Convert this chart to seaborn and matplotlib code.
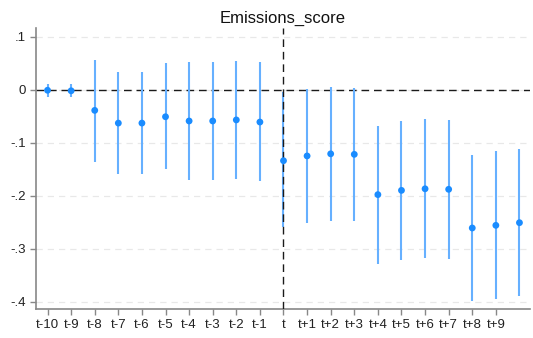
import numpy as np
import pandas as pd
import matplotlib
matplotlib.use("Agg")
import matplotlib.pyplot as plt
import seaborn as sns

# Event-time periods relative to treatment
periods = ["t-10", "t-9", "t-8", "t-7", "t-6", "t-5", "t-4", "t-3", "t-2", "t-1",
           "t", "t+1", "t+2", "t+3", "t+4", "t+5", "t+6", "t+7", "t+8", "t+9", "t+10"]
# Labels shown on the x axis (last period unlabeled)
tick_labels = periods[:-1]

# Point estimates and 95% confidence bounds
coef = [-0.001, -0.002, -0.039, -0.063, -0.063, -0.051, -0.059, -0.059, -0.057, -0.061,
        -0.134, -0.125, -0.121, -0.122, -0.198, -0.190, -0.187, -0.188, -0.261, -0.256, -0.251]
ci_low = [-0.014, -0.013, -0.136, -0.159, -0.159, -0.150, -0.170, -0.170, -0.169, -0.173,
          -0.259, -0.252, -0.247, -0.247, -0.329, -0.321, -0.318, -0.319, -0.398, -0.395, -0.390]
ci_high = [0.011, 0.011, 0.056, 0.034, 0.034, 0.051, 0.053, 0.052, 0.054, 0.052,
           -0.004, 0.001, 0.006, 0.004, -0.068, -0.059, -0.056, -0.057, -0.124, -0.116, -0.112]

y_ticks = [0.1, 0, -0.1, -0.2, -0.3, -0.4]
y_tick_labels = [".1", "0", "-.1", "-.2", "-.3", "-.4"]

df = pd.DataFrame({"period": periods, "coef": coef, "lo": ci_low, "hi": ci_high})
df["pos"] = np.arange(len(df))

sns.set_style("white")
plt.rcParams["font.family"] = ["Liberation Sans", "DejaVu Sans"]

fig = plt.figure(figsize=(5.33, 3.38), dpi=100)
ax = fig.add_axes([0.0675, 0.086, 0.927, 0.831])

# horizontal grid
for yv in y_ticks:
    ax.axhline(yv, color="#e8e8e8", lw=0.9, ls=(0, (5, 4)), zorder=0)

# reference lines
ax.axhline(0, color="#1a1a1a", lw=1.0, ls=(0, (5.5, 3.5)), zorder=1)
treat_pos = periods.index("t")

# confidence intervals
ax.vlines(df["pos"], df["lo"], df["hi"], color="#66b0ff", lw=1.5, zorder=2)
ax.axvline(treat_pos, color="#1a1a1a", lw=1.0, ls=(0, (5.5, 3.5)), zorder=3)

# point estimates
sns.scatterplot(data=df, x="pos", y="coef", ax=ax, color="#1a8cff", s=24,
                edgecolor="none", zorder=4, legend=False)

ax.set_xlim(-0.49, 20.45)
ax.set_ylim(-0.4138, 0.1164)
ax.set_xticks(np.arange(len(tick_labels)))
ax.set_xticklabels(tick_labels)
ax.set_yticks(y_ticks)
ax.set_yticklabels(y_tick_labels)
ax.set_xlabel("")
ax.set_ylabel("")
ax.set_title("Emissions_score", fontsize=12, color="#111111", pad=4)

for side in ["top", "right"]:
    ax.spines[side].set_visible(False)
for side in ["left", "bottom"]:
    ax.spines[side].set_color("#888888")
    ax.spines[side].set_linewidth(1.2)

ax.tick_params(axis="both", which="major", direction="out", length=4, width=1,
               color="#888888", labelsize=9.5, labelcolor="#222222", pad=3)
ax.tick_params(axis="x", bottom=True)
ax.tick_params(axis="y", left=True)

fig.savefig("out.png", dpi=100)
